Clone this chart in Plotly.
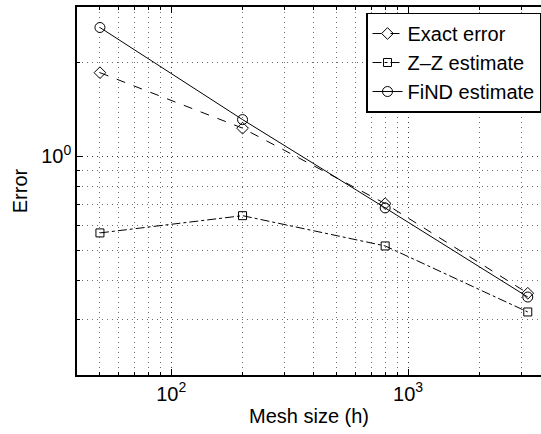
import plotly.graph_objects as go
import numpy as np

mesh = [50, 200, 800, 3200]
exact_error = [1.85, 1.23, 0.706, 0.365]
zz_estimate = [0.569, 0.646, 0.517, 0.318]
find_estimate = [2.58, 1.31, 0.684, 0.355]

x_major = [100, 1000]
x_major_text = ["10<sup>2</sup>", "10<sup>3</sup>"]
x_minor = [k * 10**d for d in (1, 2, 3) for k in range(2, 10)]
y_major = [1]
y_major_text = ["10<sup>0</sup>"]
y_minor = [k * 10**d for d in (-1, 0) for k in range(2, 10)]

fig = go.Figure()
fig.add_trace(go.Scatter(x=mesh, y=exact_error, name="Exact error", mode="lines+markers",
                         line=dict(color="black", width=1, dash="dash"),
                         marker=dict(symbol="diamond-open", size=9, color="black", line=dict(width=1))))
fig.add_trace(go.Scatter(x=mesh, y=zz_estimate, name="Z\u2013Z estimate", mode="lines+markers",
                         line=dict(color="black", width=1, dash="dashdot"),
                         marker=dict(symbol="square-open", size=8, color="black", line=dict(width=1))))
fig.add_trace(go.Scatter(x=mesh, y=find_estimate, name="FiND estimate", mode="lines+markers",
                         line=dict(color="black", width=1, dash="solid"),
                         marker=dict(symbol="circle-open", size=10, color="black", line=dict(width=1))))

gcol = "rgb(110,110,110)"
gdash = "1px,4px"
fig.update_layout(
    width=541, height=434,
    margin=dict(l=77, r=0, t=7, b=59),
    paper_bgcolor="white", plot_bgcolor="white",
    font=dict(family="Liberation Sans, Arial, sans-serif", size=20, color="black"),
    xaxis=dict(type="log", range=[np.log10(40), 3.561], tickmode="array",
               tickvals=x_major, ticktext=x_major_text,
               ticks="inside", ticklen=6, tickcolor="black", showline=True, linecolor="black",
               linewidth=1.5, mirror="allticks", zeroline=False,
               showgrid=True, gridcolor="rgb(60,60,60)", griddash=gdash, gridwidth=1,
               minor=dict(tickmode="array", tickvals=x_minor, ticks="inside", ticklen=3,
                          tickcolor="black", showgrid=True, gridcolor=gcol, griddash=gdash,
                          gridwidth=1),
               title=dict(text="Mesh size (h)", standoff=5, font=dict(size=20))),
    yaxis=dict(type="log", range=[np.log10(0.2), np.log10(3)], tickmode="array",
               tickvals=y_major, ticktext=y_major_text,
               ticks="inside", ticklen=6, tickcolor="black", showline=True, linecolor="black",
               linewidth=1.5, mirror=False, zeroline=False,
               showgrid=True, gridcolor="rgb(60,60,60)", griddash=gdash, gridwidth=1,
               minor=dict(tickmode="array", tickvals=y_minor, ticks="inside", ticklen=3,
                          tickcolor="black", showgrid=True, gridcolor=gcol, griddash=gdash,
                          gridwidth=1),
               title=dict(text="Error", standoff=8, font=dict(size=20))),
    legend=dict(x=1, y=0.985, xanchor="right", yanchor="top", bgcolor="white",
                bordercolor="black", borderwidth=1.5, font=dict(size=20),
                tracegroupgap=0, itemwidth=30),
    showlegend=True,
)
fig.write_html("out.html")
